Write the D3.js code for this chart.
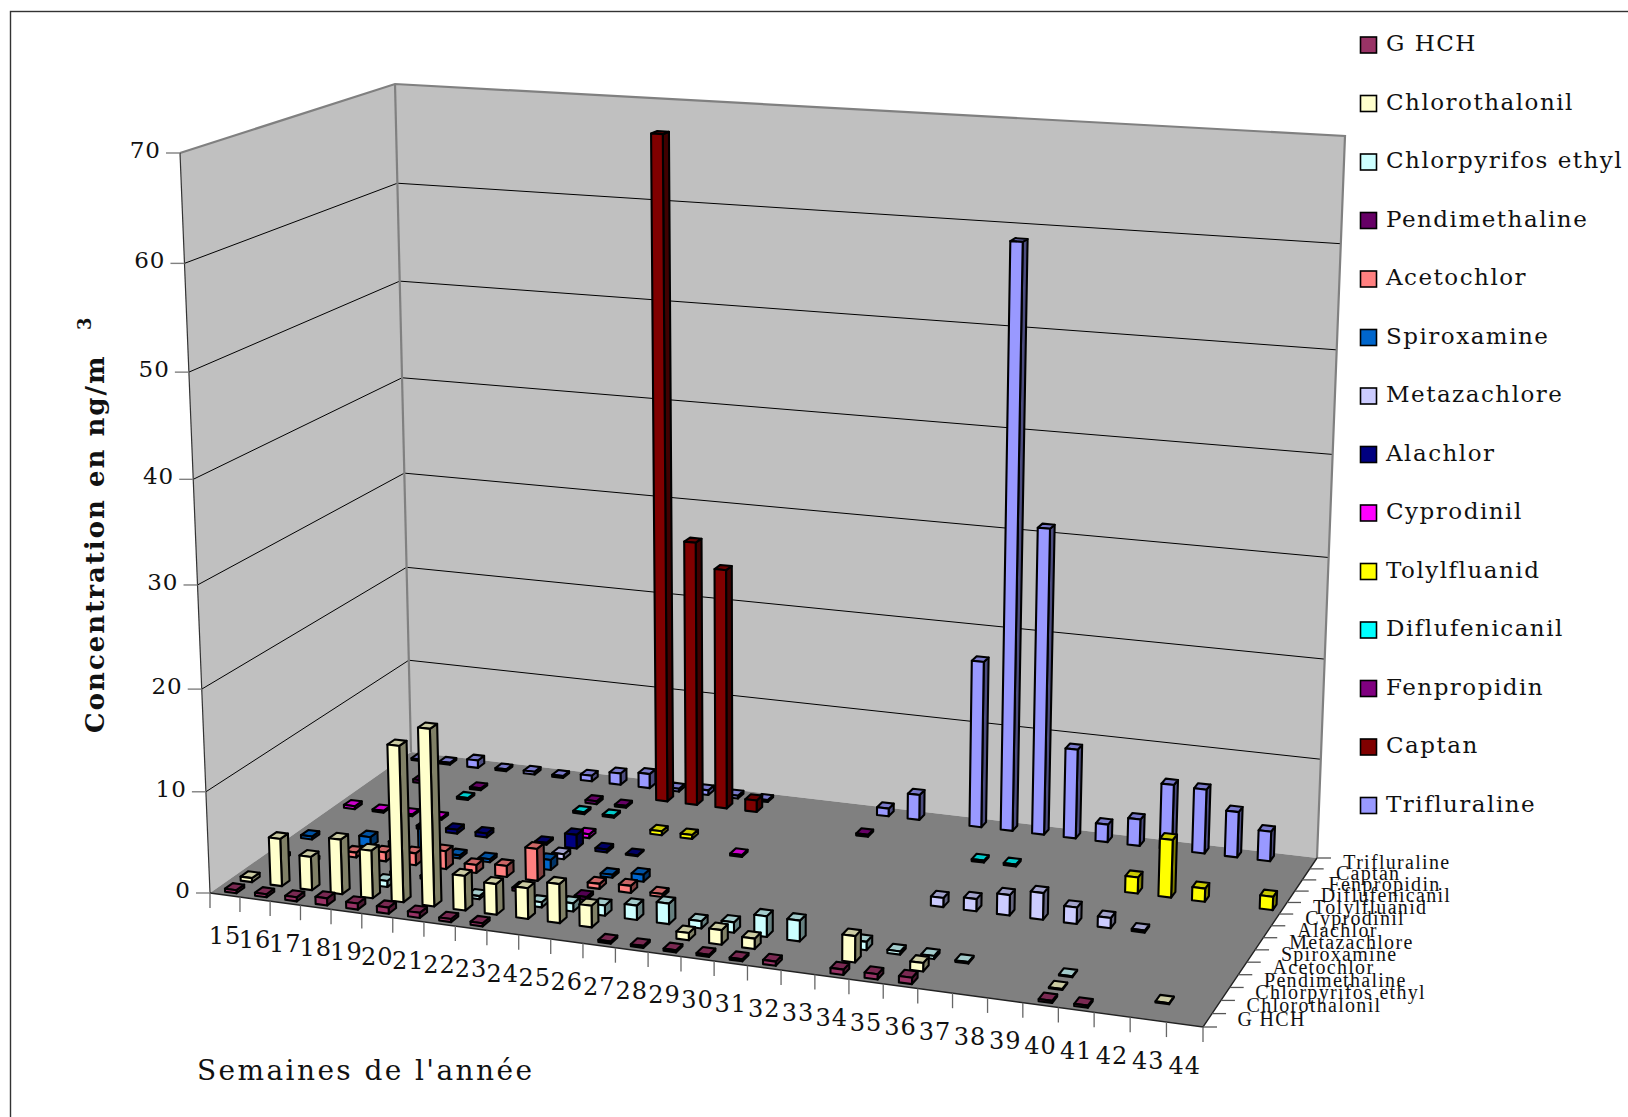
<!DOCTYPE html>
<html lang="fr">
<head>
<meta charset="utf-8">
<title>Concentration hebdomadaire</title>
<script src="https://cdn.jsdelivr.net/npm/d3@7/dist/d3.min.js"></script>
<style>
  html, body { margin: 0; padding: 0; background: #fff; }
  svg { display: block; }
  text { font-family: "DejaVu Serif", serif; fill: #111; }
</style>
</head>
<body>
<svg id="chart" width="1628" height="1117"></svg>
<script>
// Weeks of the year along the front edge
const weeks = d3.range(15, 45);
const valueTicks = [0, 10, 20, 30, 40, 50, 60, 70];

// Pesticides, from the front row to the back row
const seriesNames = ["G HCH", "Chlorothalonil", "Chlorpyrifos ethyl", "Pendimethaline", "Acetochlor",
  "Spiroxamine", "Metazachlore", "Alachlor", "Cyprodinil", "Tolylfluanid", "Diflufenicanil",
  "Fenpropidin", "Captan", "Trifluraline"];
const seriesColors = ["#993366", "#FFFFCC", "#CCFFFF", "#660066", "#FF8080", "#0066CC", "#CCCCFF",
  "#000080", "#FF00FF", "#FFFF00", "#00FFFF", "#800080", "#800000", "#9999FF"];

// Concentration in ng/m3 per week, weeks 15 to 44 (0 = not detected)
const gHch =          [.3,.3,.4,.7,.6,.6,.5,.3,.3,0,0,0,.2,.2,.2,.2,.2,.4,0,.5,.5,.6,0,0,0,.2,.2,0,0,0];
const chlorothalonil = [.4,4.7,3.3,5.4,4.7,15.3,17.3,3.4,3,3,3.8,2.1,0,0,.7,1.4,1,0,0,2.5,0,.8,0,0,0,.1,0,0,.1,0];
const chlorpyrifos =  [0,0,0,0,.6,0,0,.3,0,.5,.8,1,1.4,2,.7,1,2,2,0,.8,.3,.3,.15,0,0,.1,0,0,0,0];
const pendimethaline = [.3,.3,0,0,.3,.3,0,0,.3,0,.3,0,0,0,0,0,0,0,0,0,0,0,0,0,0,0,0,0,0,0];
const acetochlor =    [0,0,.5,.9,1.2,1.8,.8,1.1,3.2,0,.5,.7,.3,0,0,0,0,0,0,0,0,0,0,0,0,0,0,0,0,0];
const spiroxamine =   [.3,0,1,.8,2.5,.3,.3,0,1,0,.3,.7,0,0,0,0,0,0,0,0,0,0,0,0,0,0,0,0,0,0];
const metazachlore =  [0,0,0,0,0,0,0,0,.5,0,0,0,0,0,0,0,0,0,0,0,.9,1.2,2,2.6,1.6,1,.2,0,0,0];
const alachlor =      [0,0,0,.3,.4,.4,0,.2,1.4,.3,.1,0,0,0,0,0,0,0,0,0,0,0,0,0,0,0,0,0,0,0];
const cyprodinil =    [.3,.2,.2,.2,0,0,0,0,.4,0,0,0,0,.2,0,0,0,0,0,0,0,0,0,0,0,0,0,0,0,0];
const tolylfluanid =  [0,0,0,0,0,0,0,0,0,0,.4,.4,0,0,0,0,0,0,0,0,0,0,0,0,0,1.6,5.7,1.3,0,1.3];
const diflufenicanil = [0,0,0,.2,0,0,0,.2,.2,0,0,0,0,0,0,0,0,0,0,0,.2,.2,0,0,0,0,0,0,0,0];
const fenpropidin =   [0,.3,0,.2,0,0,0,.3,.2,0,0,0,0,0,0,0,.2,0,0,0,0,0,0,0,0,0,0,0,0,0];
const captan =        [0,0,0,0,0,0,0,0,0,67.5,27.2,24.7,1.2,0,0,0,0,0,0,0,0,0,0,0,0,0,0,0,0,0];
const trifluraline =  [.2,.2,.8,.2,.3,.2,.6,1.2,1.5,.3,.5,.3,.2,0,0,0,.8,2.6,0,17,58.7,31,9.1,1.8,2.7,6.6,6.5,4.6,3,0];

const seriesValues = [gHch, chlorothalonil, chlorpyrifos, pendimethaline, acetochlor, spiroxamine,
  metazachlore, alachlor, cyprodinil, tolylfluanid, diflufenicanil, fenpropidin, captan, trifluraline];

// Scales into the unit cube of the plot: u along weeks, v into depth, h upwards
const uScale = d3.scaleBand().domain(weeks).range([0, 1]).paddingInner(0.62).paddingOuter(0.31).align(0.6);
const vScale = d3.scaleBand().domain(seriesNames).range([0, 1]).paddingInner(0.5).paddingOuter(0.25);
const hScale = d3.scaleLinear().domain([0, 70]).range([0, 1]);

// Perspective camera, calibrated on the corners of the plot box
const floorQuad = { fl: [210, 893], fr: [1203, 1027], br: [1317, 858], bl: [411, 752] };
const topCorners = [
  { u: 0, v: 0, p: [180, 153] },
  { u: 0, v: 1, p: [395, 84] },
  { u: 1, v: 1, p: [1345, 136] }
];

const project = (function () {
  const { fl, fr, br, bl } = floorQuad;
  const dx1 = fr[0] - br[0], dx2 = bl[0] - br[0], sx = fl[0] - fr[0] + br[0] - bl[0];
  const dy1 = fr[1] - br[1], dy2 = bl[1] - br[1], sy = fl[1] - fr[1] + br[1] - bl[1];
  const den = dx1 * dy2 - dx2 * dy1;
  const g = (sx * dy2 - dx2 * sy) / den;
  const k = (dx1 * sy - sx * dy1) / den;
  const a = fr[0] - fl[0] + g * fr[0], b = bl[0] - fl[0] + k * bl[0], c = fl[0];
  const d = fr[1] - fl[1] + g * fr[1], e = bl[1] - fl[1] + k * bl[1], f = fl[1];

  // Least squares for the height column (hx, hy, hw) from the upper corners
  const N = [[0, 0, 0], [0, 0, 0], [0, 0, 0]], R = [0, 0, 0];
  const addRow = (row, rhs) => {
    for (let i = 0; i < 3; i++) {
      R[i] += row[i] * rhs;
      for (let j = 0; j < 3; j++) N[i][j] += row[i] * row[j];
    }
  };
  topCorners.forEach(({ u, v, p }) => {
    const w0 = g * u + k * v + 1;
    addRow([1, 0, -p[0]], p[0] * w0 - (a * u + b * v + c));
    addRow([0, 1, -p[1]], p[1] * w0 - (d * u + e * v + f));
  });
  const det3 = m => m[0][0] * (m[1][1] * m[2][2] - m[1][2] * m[2][1])
    - m[0][1] * (m[1][0] * m[2][2] - m[1][2] * m[2][0])
    + m[0][2] * (m[1][0] * m[2][1] - m[1][1] * m[2][0]);
  const D = det3(N);
  const [hx, hy, hw] = [0, 1, 2].map(col => det3(N.map((row, i) => row.map((cell, j) => (j === col ? R[i] : cell)))) / D);

  const pinhole = (u, v, h) => {
    const w = g * u + k * v + 1 + hw * h;
    return [(a * u + b * v + c + hx * h) / w, (d * u + e * v + f + hy * h) / w];
  };

  // Remaining corner offsets, spread over the box in proportion to height
  const [r00, r01, r11] = topCorners.map(({ u, v, p }) => {
    const q = pinhole(u, v, 1);
    return [p[0] - q[0], p[1] - q[1]];
  });
  return (u, v, h) => {
    const q = pinhole(u, v, h);
    return [0, 1].map(n => q[n] + h * (r00[n] + (r01[n] - r00[n]) * v + (r11[n] - r01[n]) * u));
  };
})();

const svg = d3.select("#chart");
const pts = list => list.map(p => p.join(",")).join(" ");
const shade = (color, factor) => {
  const c = d3.rgb(color);
  return d3.rgb(c.r * factor, c.g * factor, c.b * factor).formatHex();
};

// Outer frame
svg.append("rect").attr("x", 10.5).attr("y", 11.5).attr("width", 1700).attr("height", 1200)
  .attr("fill", "#fff").attr("stroke", "#333").attr("stroke-width", 1.4);

// Walls and floor
const wallH = 1;
svg.append("polygon")
  .attr("points", pts([project(0, 0, 0), project(0, 1, 0), project(0, 1, wallH), project(0, 0, wallH)]))
  .attr("fill", "#C0C0C0");
svg.append("polygon")
  .attr("points", pts([project(0, 1, 0), project(1, 1, 0), project(1, 1, wallH), project(0, 1, wallH)]))
  .attr("fill", "#C0C0C0");
svg.append("polygon")
  .attr("points", pts([project(0, 0, 0), project(1, 0, 0), project(1, 1, 0), project(0, 1, 0)]))
  .attr("fill", "#808080");

// Horizontal gridlines on both walls
const grid = svg.append("g").attr("stroke", "#000").attr("stroke-width", 1).attr("fill", "none");
valueTicks.filter(t => t > 0 && t < 70).forEach(t => {
  const h = hScale(t);
  grid.append("polyline").attr("points", pts([project(0, 0, h), project(0, 1, h), project(1, 1, h)]));
});

// Wall edges
const edges = svg.append("g").attr("fill", "none");
edges.append("polyline")
  .attr("points", pts([project(0, 0, 1), project(0, 1, 1), project(1, 1, 1), project(1, 1, 0)]))
  .attr("stroke", "#808080").attr("stroke-width", 2.2);
edges.append("line")
  .attr("x1", project(0, 1, 0)[0]).attr("y1", project(0, 1, 0)[1])
  .attr("x2", project(0, 1, 1)[0]).attr("y2", project(0, 1, 1)[1])
  .attr("stroke", "#808080").attr("stroke-width", 2.2);
edges.append("line")
  .attr("x1", project(0, 0, 0)[0]).attr("y1", project(0, 0, 0)[1])
  .attr("x2", project(0, 0, 1)[0]).attr("y2", project(0, 0, 1)[1])
  .attr("stroke", "#333").attr("stroke-width", 1.2);
edges.append("polyline")
  .attr("points", pts([project(0, 0, 0), project(1, 0, 0), project(1, 1, 0)]))
  .attr("stroke", "#222").attr("stroke-width", 1.4);

// Value axis
const valueAxis = svg.append("g");
valueTicks.forEach(t => {
  const [x, y] = project(0, 0, hScale(t));
  valueAxis.append("line").attr("x1", x - 14).attr("x2", x).attr("y1", y).attr("y2", y)
    .attr("stroke", "#808080").attr("stroke-width", 1.4);
  valueAxis.append("text").attr("x", x - 19).attr("y", y + 5)
    .attr("text-anchor", "end").attr("font-size", 23).attr("letter-spacing", 1).text(t);
});

// Week axis
const weekStep = 1 / weeks.length;
const weekCenter = d => (weeks.indexOf(d) + 0.5) * weekStep;
const weekAxis = svg.append("g");
d3.range(weeks.length + 1).forEach(i => {
  const [x, y] = project(i * weekStep, 0, 0);
  weekAxis.append("line").attr("x1", x).attr("x2", x).attr("y1", y).attr("y2", y + 15)
    .attr("stroke", "#666").attr("stroke-width", 1.3);
});
weekAxis.selectAll("text").data(weeks).join("text")
  .attr("x", d => project(weekCenter(d), 0, 0)[0])
  .attr("y", d => project(weekCenter(d), 0, 0)[1] + 49)
  .attr("text-anchor", "middle").attr("font-size", 24).attr("letter-spacing", 1).text(d => d);

// Series axis along the right floor edge
const depthStep = vScale.step();
const seriesAxis = svg.append("g");
d3.range(seriesNames.length + 1).forEach(i => {
  const [x, y] = project(1, i * depthStep, 0);
  seriesAxis.append("line").attr("x1", x).attr("x2", x + 14).attr("y1", y).attr("y2", y)
    .attr("stroke", "#555").attr("stroke-width", 1.3);
});
seriesAxis.selectAll("text").data(seriesNames).join("text")
  .attr("x", d => project(1, vScale(d) + vScale.bandwidth() / 2, 0)[0] + 30)
  .attr("y", d => project(1, vScale(d) + vScale.bandwidth() / 2, 0)[1] + 5.5)
  .attr("font-size", 20).attr("letter-spacing", 1.3)
  .style("font-family", '"Liberation Serif", serif').text(d => d);

// Bars, painted from the back row to the front row
const bars = [];
seriesNames.forEach((name, r) => {
  seriesValues[r].forEach((value, i) => {
    if (value > 0) bars.push({ name, week: weeks[i], value, color: seriesColors[r], row: r });
  });
});
bars.sort((p, q) => d3.descending(p.row, q.row) || d3.ascending(p.week, q.week));

const barGroups = svg.append("g").selectAll("g").data(bars).join("g")
  .attr("stroke", "#000").attr("stroke-width", 2.1).attr("stroke-linejoin", "round");
barGroups.each(function (d) {
  const u0 = uScale(d.week), u1 = u0 + uScale.bandwidth();
  const v0 = vScale(d.name), v1 = v0 + vScale.bandwidth();
  const h = hScale(d.value);
  const g = d3.select(this);
  g.append("polygon")
    .attr("points", pts([project(u1, v0, 0), project(u1, v1, 0), project(u1, v1, h), project(u1, v0, h)]))
    .attr("fill", shade(d.color, 0.5));
  g.append("polygon")
    .attr("points", pts([project(u0, v0, h), project(u1, v0, h), project(u1, v1, h), project(u0, v1, h)]))
    .attr("fill", shade(d.color, 0.8));
  g.append("polygon")
    .attr("points", pts([project(u0, v0, 0), project(u1, v0, 0), project(u1, v0, h), project(u0, v0, h)]))
    .attr("fill", d.color);
});

// Legend
const legendStep = 58.5;
const legend = svg.append("g").selectAll("g").data(seriesNames).join("g")
  .attr("transform", (d, i) => `translate(1360,${45 + i * legendStep})`);
legend.append("rect").attr("x", 0.5).attr("y", -8).attr("width", 16).attr("height", 16)
  .attr("fill", (d, i) => seriesColors[i]).attr("stroke", "#000").attr("stroke-width", 1.6);
legend.append("text").attr("x", 26).attr("y", 6)
  .attr("font-size", 23).attr("letter-spacing", 1.5).text(d => d);

// Axis titles
svg.append("text").attr("transform", "translate(104,733) rotate(-90)")
  .attr("font-size", 26).attr("font-weight", "bold").attr("letter-spacing", 2).text("Concentration en ng/m");
svg.append("text").attr("transform", "translate(91,330) rotate(-90)")
  .attr("font-size", 18).attr("font-weight", "bold").text("3");
svg.append("text").attr("x", 197).attr("y", 1080)
  .attr("font-size", 28).attr("letter-spacing", 2.4).text("Semaines de l'année");
</script>
</body>
</html>
